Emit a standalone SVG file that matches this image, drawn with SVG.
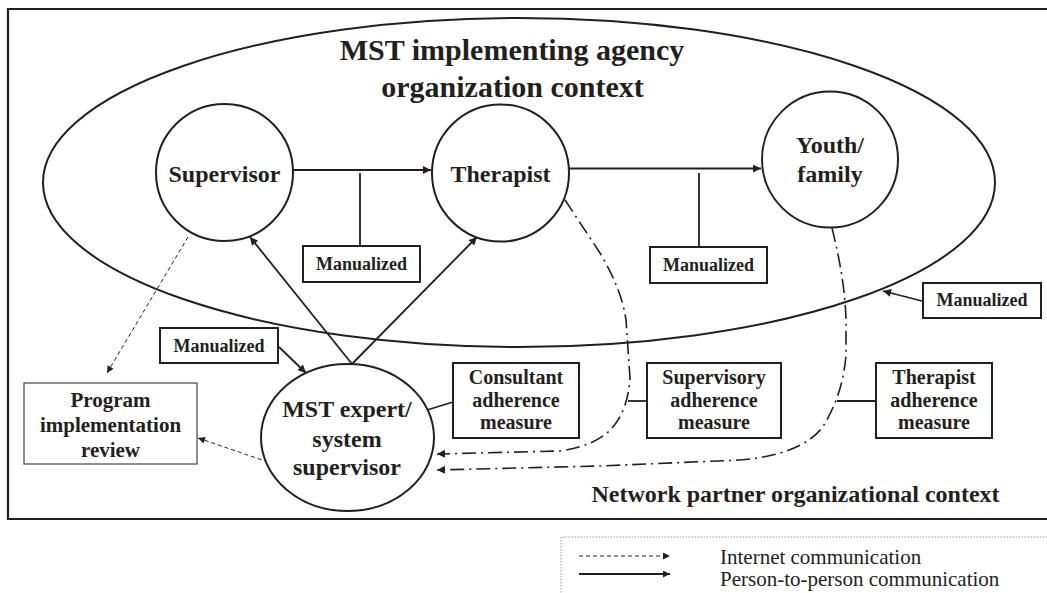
<svg xmlns="http://www.w3.org/2000/svg" width="1047" height="593" viewBox="0 0 1047 593">
<defs>
<marker id="ah" viewBox="0 0 10 10" refX="10" refY="5" markerWidth="10" markerHeight="8" markerUnits="userSpaceOnUse" orient="auto">
<path d="M0,0 L10,5 L0,10 z" fill="#231f20"/>
</marker>
<marker id="ahs" viewBox="0 0 10 10" refX="10" refY="5" markerWidth="9" markerHeight="7" markerUnits="userSpaceOnUse" orient="auto">
<path d="M0,0 L10,5 L0,10 z" fill="#231f20"/>
</marker>
</defs>
<style>
.bg{fill:#fff}
.frame{fill:none;stroke:#231f20;stroke-width:2.2}
.node{fill:#fff;stroke:#231f20;stroke-width:2}
.ctx{fill:none;stroke:#231f20;stroke-width:2}
.box{fill:#fff;stroke:#231f20;stroke-width:2}
.tbox{fill:#fff;stroke:#444;stroke-width:1.2}
.solid{fill:none;stroke:#231f20;stroke-width:1.8}
.net{fill:none;stroke:#231f20;stroke-width:1;stroke-dasharray:4 3}
.dd{fill:none;stroke:#231f20;stroke-width:1.6;stroke-dasharray:14 5 2 5}
.t{font-family:"Liberation Serif","Times New Roman",serif;font-weight:bold;fill:#231f20;text-anchor:middle}
.title{font-size:30px}
.lbl{font-size:24px}
.man{font-size:18px}
.ms{font-size:21px}
.am{font-size:20px}
.leg{font-family:"Liberation Serif","Times New Roman",serif;font-size:21px;fill:#231f20}
.legbox{fill:none;stroke:#999;stroke-width:1;stroke-dasharray:1.5 1.5}
</style>
<rect class="bg" x="0" y="0" width="1047" height="593"/>
<path class="frame" d="M1050,9 L8,9 L8,519 L1050,519"/>

<g id="org-context">
<ellipse class="ctx" cx="519" cy="182.5" rx="476" ry="164.5"/>
<text class="t title" x="512" y="60">MST implementing agency<tspan x="512.5" dy="37">organization context</tspan></text>
</g>

<g id="connectors">
<line class="solid" x1="293" y1="170" x2="431" y2="170" marker-end="url(#ah)"/>
<line class="solid" x1="360" y1="173" x2="360" y2="246"/>
<line class="solid" x1="569" y1="168.5" x2="761" y2="168.5" marker-end="url(#ah)"/>
<line class="solid" x1="699" y1="173" x2="699" y2="247"/>
<line class="solid" x1="352" y1="364" x2="250" y2="237" marker-end="url(#ah)"/>
<line class="solid" x1="352" y1="364" x2="477" y2="237" marker-end="url(#ah)"/>
<line class="solid" x1="279" y1="347" x2="306" y2="373" marker-end="url(#ah)"/>
<line class="solid" x1="922" y1="301" x2="883" y2="291" marker-end="url(#ah)"/>
<line class="solid" x1="453" y1="402" x2="427" y2="410"/>
<line class="solid" x1="647" y1="401" x2="628" y2="401"/>
<line class="solid" x1="876" y1="401" x2="837" y2="401"/>
<line class="net" x1="188" y1="237" x2="107" y2="373" marker-end="url(#ahs)"/>
<line class="net" x1="268" y1="462" x2="198" y2="438" marker-end="url(#ahs)"/>
<path class="dd" d="M565,200 L600,253 Q622,290 626,320 L630,378 Q628,410 612,428 Q596,446 560,451 L437,454" marker-end="url(#ah)"/>
<path class="dd" d="M832,228 Q845,280 846,320 L846,355 Q843,395 822,428 Q800,455 740,460 L600,466 L437,470" marker-end="url(#ah)"/>
</g>

<g id="supervisor">
<circle class="node" cx="224.5" cy="172.5" r="68.5"/>
<text class="t lbl" x="224.5" y="182">Supervisor</text>
</g>
<g id="therapist">
<circle class="node" cx="500.5" cy="173" r="68.5"/>
<text class="t lbl" x="500.5" y="182">Therapist</text>
</g>
<g id="youth-family">
<circle class="node" cx="830" cy="159.5" r="68"/>
<text class="t lbl" x="830" y="153">Youth/<tspan x="830" dy="29">family</tspan></text>
</g>
<g id="mst-expert">
<ellipse class="node" cx="347.5" cy="437.5" rx="86.5" ry="73.5"/>
<text class="t lbl" x="347" y="417">MST expert/<tspan x="347" dy="30">system</tspan><tspan x="347" dy="28">supervisor</tspan></text>
</g>
<g id="manualized-1">
<rect class="box" x="303" y="246" width="117" height="36"/>
<text class="t man" x="361.5" y="270">Manualized</text>
</g>
<g id="manualized-2">
<rect class="box" x="650" y="247" width="117" height="36"/>
<text class="t man" x="708.5" y="271">Manualized</text>
</g>
<g id="manualized-3">
<rect class="box" x="923" y="283" width="118" height="35"/>
<text class="t man" x="982" y="306">Manualized</text>
</g>
<g id="manualized-4">
<rect class="box" x="160" y="328" width="118" height="35"/>
<text class="t man" x="219" y="352">Manualized</text>
</g>
<g id="program-review">
<rect class="tbox" x="24" y="383" width="173" height="81"/>
<text class="t ms" x="110.5" y="407">Program<tspan x="110.5" dy="25">implementation</tspan><tspan x="110.5" dy="25">review</tspan></text>
</g>
<g id="consultant-adherence">
<rect class="box" x="453" y="363" width="126" height="75"/>
<text class="t am" x="516" y="384">Consultant<tspan x="516" dy="22.5">adherence</tspan><tspan x="516" dy="22.5">measure</tspan></text>
</g>
<g id="supervisory-adherence">
<rect class="box" x="647" y="363" width="134" height="75"/>
<text class="t am" x="714" y="384">Supervisory<tspan x="714" dy="22.5">adherence</tspan><tspan x="714" dy="22.5">measure</tspan></text>
</g>
<g id="therapist-adherence">
<rect class="box" x="876" y="363" width="116" height="75"/>
<text class="t am" x="934" y="384">Therapist<tspan x="934" dy="22.5">adherence</tspan><tspan x="934" dy="22.5">measure</tspan></text>
</g>
<g id="network-context">
<text class="t lbl" x="795.5" y="502">Network partner organizational context</text>
</g>

<g id="legend">
<path class="legbox" d="M1050,537 L561,537 L561,600"/>
<line class="net" x1="579" y1="556" x2="670" y2="556" marker-end="url(#ahs)"/>
<line class="solid" x1="579" y1="574" x2="670" y2="574" marker-end="url(#ahs)"/>
<text class="leg" x="720" y="564">Internet communication<tspan x="720" dy="22">Person-to-person communication</tspan></text>
</g>
</svg>
